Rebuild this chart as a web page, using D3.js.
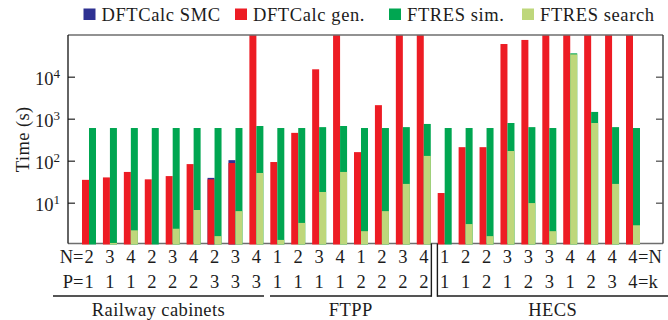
<!DOCTYPE html>
<html>
<head>
<meta charset="utf-8">
<script src="https://cdn.jsdelivr.net/npm/d3@7"></script>
<style>
  body { margin: 0; background: #fff; }
  svg { display: block; font-family: "Liberation Serif", "Times New Roman", serif; }
</style>
</head>
<body>
<svg id="chart" width="668" height="320"></svg>
<script>
// Series shown in the legend, in drawing order
const seriesNames  = ["DFTCalc SMC", "DFTCalc gen.", "FTRES sim.", "FTRES search"];
const seriesColors = ["#2e3192", "#ed1c24", "#00a651", "#bed77b"];

// Case parameters for each of the 27 benchmark instances
const nLabels = ["2","3","4","2","3","4","2","3","4",
                 "1","2","3","4","1","2","3","4",
                 "1","2","2","3","3","3","4","4","4","4"];
const pLabels = ["1","1","1","2","2","2","3","3","3",
                 "1","1","1","1","2","2","2","2",
                 "1","1","2","1","2","3","1","2","3","4"];
const sectionNames = ["Railway cabinets", "FTPP", "HECS"];
const sectionSizes = [9, 8, 10];

// Runtimes in seconds (TIMEOUT = run did not finish within the plotted range)
const TIMEOUT = 1e5;
const smcTime    = [null, null, null, null, null, null, 39, 103, null,
                    null, null, null, null, null, null, null, null,
                    null, null, null, null, null, null, null, null, null, null];
const genTime    = [35, 40, 54, 36, 43, 83, 36, 88, TIMEOUT,
                    93, 460, 15000, TIMEOUT, 160, 2100, TIMEOUT, TIMEOUT,
                    17, 210, 210, 60000, 75000, TIMEOUT, TIMEOUT, TIMEOUT, TIMEOUT, TIMEOUT];
const simTime    = [600, 600, 600, 600, 600, 600, 600, 600, 670,
                    600, 600, 630, 670, 600, 600, 630, 750,
                    600, 600, 600, 790, 630, 600, 36000, 1450, 630, 600];
const searchTime = [null, 1.1, 2.2, null, 2.4, 6.7, 1.6, 6.3, 51,
                    1.3, 3.3, 18, 54, 2.1, 6.3, 28, 130,
                    null, 3.1, 1.6, 170, 9.8, 2.1, 34000, 790, 28, 2.9];
const yTicks = [10, 100, 1000, 10000];

// Layout
const plot = { left: 68, right: 663, top: 35, bottom: 243.5 };
const ink = "#1c1c1c";
const svg = d3.select("#chart");

const x = d3.scaleBand()
  .domain(d3.range(nLabels.length))
  .range([78.54, 643.46])
  .paddingInner(0.331)
  .paddingOuter(0.1655);
const barW = x.bandwidth() / 2;
const center = i => x(i) + barW;

const y = d3.scaleLog().domain([1, 1e5]).range([244.7, 34.7]);

svg.append("defs").append("clipPath").attr("id", "plotClip")
  .append("rect")
  .attr("x", plot.left).attr("y", plot.top)
  .attr("width", plot.right - plot.left).attr("height", 300);

// bottom frame line sits under the bars
svg.append("line")
  .attr("x1", plot.left).attr("x2", plot.right)
  .attr("y1", plot.bottom).attr("y2", plot.bottom)
  .attr("stroke", "#6e6e6e").attr("stroke-width", 1.5);

// bars: SMC behind generation on the left slot, search over simulation on the right slot
const barLayers = [
  { values: smcTime,    color: seriesColors[0], slot: 0 },
  { values: genTime,    color: seriesColors[1], slot: 0 },
  { values: simTime,    color: seriesColors[2], slot: 1 },
  { values: searchTime, color: seriesColors[3], slot: 1 }
];
const barsG = svg.append("g").attr("clip-path", "url(#plotClip)");
barLayers.forEach(layer => {
  const rows = layer.values.map((v, i) => ({ i, v })).filter(d => d.v != null);
  barsG.append("g").selectAll("rect").data(rows).join("rect")
    .attr("x", d => x(d.i) + layer.slot * barW)
    .attr("width", barW)
    .attr("y", d => y(d.v))
    .attr("height", d => plot.bottom + 1 - y(d.v))
    .attr("fill", layer.color);
});

// remaining frame
svg.append("line")
  .attr("x1", plot.left).attr("x2", plot.right)
  .attr("y1", plot.top).attr("y2", plot.top)
  .attr("stroke", "#6e6e6e").attr("stroke-width", 1.5);
svg.append("line")
  .attr("x1", plot.right).attr("x2", plot.right)
  .attr("y1", plot.top).attr("y2", plot.bottom)
  .attr("stroke", "#3a3a3a").attr("stroke-width", 1.4);

// left axis with inward ticks
const leftAxis = svg.append("g")
  .attr("transform", `translate(${plot.left},0)`)
  .call(d3.axisLeft(y).tickValues(yTicks).tickSizeInner(-7).tickSizeOuter(0).tickFormat(""));
leftAxis.select(".domain").remove();
leftAxis.selectAll(".tick line").attr("stroke", "#333").attr("stroke-width", 1.3);
svg.append("line")
  .attr("x1", plot.left).attr("x2", plot.left)
  .attr("y1", plot.top).attr("y2", plot.bottom)
  .attr("stroke", "#111").attr("stroke-width", 1.3);

// right axis ticks, pointing inward
const rightAxis = svg.append("g")
  .attr("transform", `translate(${plot.right},0)`)
  .call(d3.axisRight(y).tickValues(yTicks).tickSizeInner(-7).tickSizeOuter(0).tickFormat(""));
rightAxis.select(".domain").remove();
rightAxis.selectAll(".tick line").attr("stroke", "#555").attr("stroke-width", 1.3);

// tick labels as powers of ten
yTicks.forEach(t => {
  const txt = svg.append("text")
    .attr("x", plot.left - 8).attr("y", y(t) + 8.3)
    .attr("text-anchor", "end").attr("fill", ink)
    .attr("font-size", 18.5);
  txt.append("tspan").text("10");
  txt.append("tspan").attr("font-size", 13).attr("dy", -7.5).text(String(Math.round(Math.log10(t))));
});

// y axis title
svg.append("text")
  .attr("transform", `translate(28.5,${(plot.top + plot.bottom) / 2}) rotate(-90)`)
  .attr("text-anchor", "middle").attr("fill", ink)
  .attr("font-size", 18.5).attr("letter-spacing", 0.4)
  .text("Time (s)");

// parameter rows under the axis
const rowN = 262.5, rowP = 287.5;
const last = nLabels.length - 1;
svg.append("g").selectAll("text").data(nLabels).join("text")
  .attr("x", (d, i) => center(i)).attr("y", rowN)
  .attr("text-anchor", "middle").attr("font-size", 18.5).attr("fill", ink)
  .text(d => d);
svg.append("g").selectAll("text").data(pLabels).join("text")
  .attr("x", (d, i) => center(i)).attr("y", rowP)
  .attr("text-anchor", "middle").attr("font-size", 18.5).attr("fill", ink)
  .text(d => d);
svg.append("text").attr("x", center(0) - 5.5).attr("y", rowN)
  .attr("text-anchor", "end").attr("font-size", 18.5).attr("fill", ink).text("N=");
svg.append("text").attr("x", center(0) - 5.5).attr("y", rowP)
  .attr("text-anchor", "end").attr("font-size", 18.5).attr("fill", ink).text("P=");
svg.append("text").attr("x", center(last) + 5).attr("y", rowN)
  .attr("text-anchor", "start").attr("font-size", 18.5).attr("fill", ink).text("=N");
svg.append("text").attr("x", center(last) + 5).attr("y", rowP)
  .attr("text-anchor", "start").attr("font-size", 18.5).attr("fill", ink).text("=k");

// section brackets and names
const bracketY = 296;
let startIdx = 0;
sectionSizes.forEach((size, s) => {
  const first = startIdx, lastIdx = startIdx + size - 1;
  let x0 = x(first) - 0.3;
  let x1 = x(lastIdx) + x.bandwidth() + 0.6;
  if (s === 0) x0 = 53;
  if (s === sectionSizes.length - 1) x1 = 668;
  svg.append("line").attr("x1", x0).attr("x2", x1)
    .attr("y1", bracketY).attr("y2", bracketY)
    .attr("stroke", ink).attr("stroke-width", 1.6);
  if (s === 1) {
    svg.append("line").attr("x1", x1).attr("x2", x1)
      .attr("y1", plot.bottom).attr("y2", bracketY + 0.8)
      .attr("stroke", ink).attr("stroke-width", 1.4);
  }
  if (s === 2) {
    svg.append("line").attr("x1", x0).attr("x2", x0)
      .attr("y1", plot.bottom).attr("y2", bracketY + 0.8)
      .attr("stroke", ink).attr("stroke-width", 1.4);
  }
  svg.append("text").attr("x", (x0 + x1) / 2).attr("y", 315.5)
    .attr("text-anchor", "middle").attr("font-size", 18.5).attr("fill", ink)
    .attr("letter-spacing", 0.4)
    .text(sectionNames[s]);
  startIdx += size;
});

// legend
const legendX = [83.5, 235, 389, 522];
const legend = svg.append("g").selectAll("g").data(seriesNames).join("g")
  .attr("transform", (d, i) => `translate(${legendX[i]},0)`);
legend.append("rect").attr("x", 0).attr("y", 8.5).attr("width", 12).attr("height", 11.5)
  .attr("fill", (d, i) => seriesColors[i]);
legend.append("text").attr("x", 18).attr("y", 20.5)
  .attr("font-size", 18.5).attr("fill", ink).attr("letter-spacing", 0.6).text(d => d);
</script>
</body>
</html>
